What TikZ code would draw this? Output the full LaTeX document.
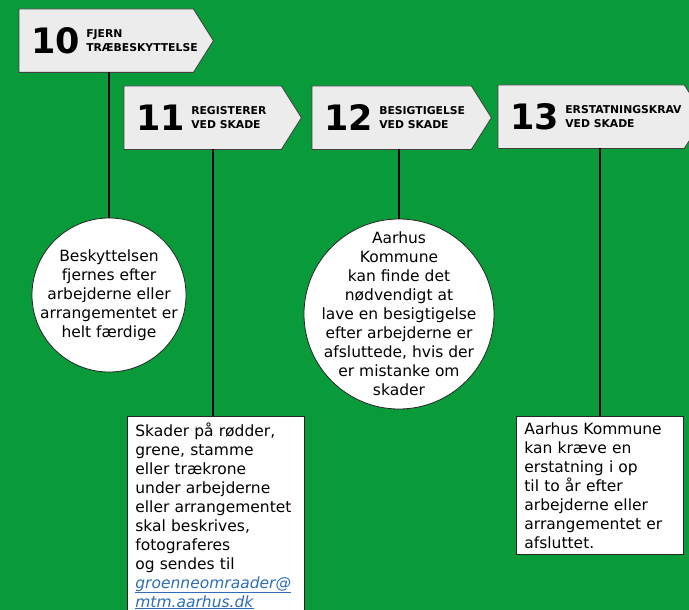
\documentclass[tikz,border=0pt]{standalone}
\usepackage{fontspec}
\setmainfont{DejaVu Sans}
\usetikzlibrary{positioning}
\definecolor{bggreen}{RGB}{9,154,58}
\definecolor{signgray}{RGB}{236,236,236}
\definecolor{linkblue}{RGB}{46,110,181}
\tikzset{
  signbody/.style={anchor=north west, inner sep=0, minimum height=63},
  signline/.style={draw=black!75, fill=signgray, line width=0.8},
  signnum/.style={anchor=west, inner sep=0, font=\fontsize{35}{35}\selectfont\bfseries},
  signlbl/.style={inner sep=0, align=left, font=\fontsize{10.8}{13.5}\selectfont\bfseries},
  stem/.style={line width=2.4},
  infocircle/.style={circle, draw=black!85, fill=white, line width=0.8, inner sep=0},
  infotext/.style={align=center, inner sep=0, font=\fontsize{15.5}{19}\selectfont},
  infobox/.style={draw=black!85, fill=white, line width=0.8, anchor=north west, align=left,
    inner xsep=8, inner ysep=6, font=\fontsize{15.5}{19}\selectfont}
}
\begin{document}
\begin{tikzpicture}[x=1pt,y=-1pt]
    \useasboundingbox (0,0) rectangle (689,610);
    \clip (0,0) rectangle (689,610);
    \fill[bggreen] (0,0) rectangle (689,610);
    %% signs
    \foreach \num/\x/\y/\w/\lbl in {10/19/9/174/{FJERN\\TRÆBESKYTTELSE},
        11/124/86/157/{REGISTERER\\VED SKADE},
        12/312/86/159/{BESIGTIGELSE\\VED SKADE},
        13/498/85/186/{ERSTATNINGSKRAV\\VED SKADE}} {
      \node[signbody, minimum width=\w] (s\num) at (\x,\y) {};
      \filldraw[signline] (s\num.north west) -- (s\num.north east) -- ([xshift=20]s\num.east)
        -- (s\num.south east) -- (s\num.south west) -- cycle;
      \node[signnum] (n\num) at ([xshift=12]s\num.west) {\num};
      \node[signlbl, right=6pt of n\num] (l\num) {\lbl};
    }
    %% circles
    \node[infocircle, minimum size=154] (c10) at (109,295) {};
    \node[infotext] (t10) at (c10)
      {Beskyttelsen\\fjernes efter\\arbejderne eller\\arrangementet er\\helt færdige};
    \node[infocircle, minimum size=190] (c12) at (399,314) {};
    \node[infotext] (t12) at (c12)
      {Aarhus\\Kommune\\kan finde det\\nødvendigt at\\lave en besigtigelse\\efter arbejderne er\\afsluttede, hvis der\\er mistanke om\\skader};
    %% boxes
    \node[infobox, text width=161] (b11) at (127,416)
      {Skader på rødder,\\grene, stamme\\eller trækrone\\under arbejderne\\eller arrangementet\\skal beskrives,\\fotograferes\\og sendes til\\
       \textcolor{linkblue}{\underline{\textit{groenneomraader@}}}\\
       \textcolor{linkblue}{\underline{\textit{mtm.aarhus.dk}}}\\[6pt]};
    \node[infobox, text width=151] (b13) at (516,416)
      {Aarhus Kommune\\kan kræve en\\erstatning i op\\til to år efter\\arbejderne eller\\arrangementet er\\afsluttet.};
    %% stems
    \draw[stem] (c10.north) -- (c10.north |- s10.south);
    \draw[stem] ([xshift=-3]b11.north) -- ([xshift=-3]b11.north |- s11.south);
    \draw[stem] (c12.north) -- (c12.north |- s12.south);
    \draw[stem] (b13.north) -- (b13.north |- s13.south);
\end{tikzpicture}
\end{document}
